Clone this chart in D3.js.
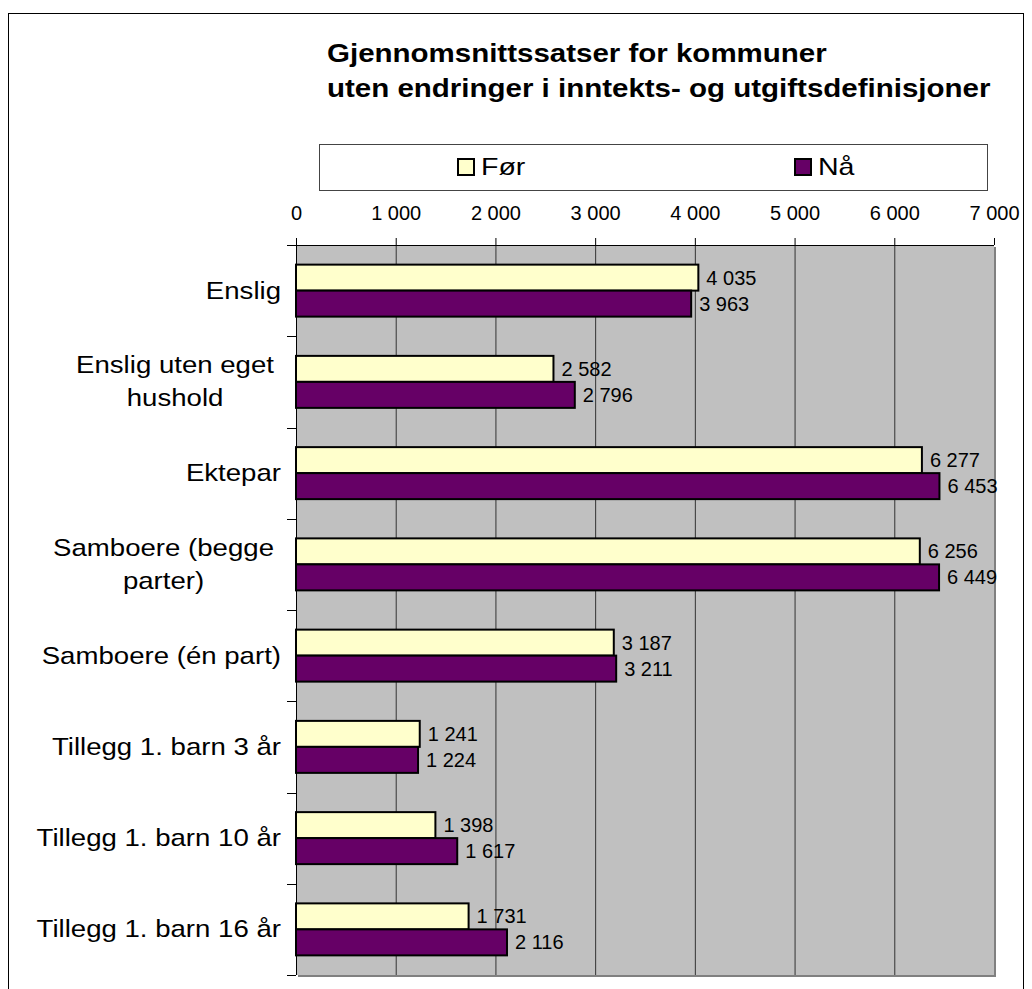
<!DOCTYPE html>
<meta charset="utf-8">
<style>
html, body { margin: 0; padding: 0; background: #fff; }
svg { display: block; font-family: Arial, 'Liberation Sans', sans-serif; }
</style>
<body>
<script src="https://cdn.jsdelivr.net/npm/d3@7"></script>
<script>
// data
var categories = ["Enslig", "Enslig uten eget hushold", "Ektepar", "Samboere (begge parter)",
  "Samboere (én part)", "Tillegg 1. barn 3 år", "Tillegg 1. barn 10 år", "Tillegg 1. barn 16 år"];
var categoryLines = [["Enslig"], ["Enslig uten eget", "hushold"], ["Ektepar"], ["Samboere (begge", "parter)"],
  ["Samboere (én part)"], ["Tillegg 1. barn 3 år"], ["Tillegg 1. barn 10 år"], ["Tillegg 1. barn 16 år"]];
var series = ["Før", "Nå"];
var forValues = [4035, 2582, 6277, 6256, 3187, 1241, 1398, 1731];
var naValues = [3963, 2796, 6453, 6449, 3211, 1224, 1617, 2116];
var tickValues = [0, 1000, 2000, 3000, 4000, 5000, 6000, 7000];
var colors = ["#FFFFCC", "#660066"];

var W = 1032, H = 989;
var svg = d3.select("body").append("svg").attr("width", W).attr("height", H);

// outer chart border
svg.append("rect")
  .attr("x", 8.5).attr("y", 13.5).attr("width", 1015).attr("height", 1000)
  .attr("fill", "#fff").attr("stroke", "#000").attr("stroke-width", 1);

var nb = d3.formatLocale({decimal: ",", thousands: "\u00a0", grouping: [3], currency: ["", ""]}).format(",");

var x = d3.scaleLinear().domain([0, 7000]).range([296, 994]);
var y0 = d3.scaleBand().domain(categories).range([245, 975]);
var y1 = d3.scaleBand().domain(series).range([0, y0.bandwidth()]).paddingOuter(0.755);

// plot area with shadow
svg.append("rect")
  .attr("x", x(0) + 2).attr("y", 247).attr("width", x(7000) - x(0)).attr("height", 975 - 245)
  .attr("fill", "#808080");
svg.append("rect")
  .attr("x", x(0)).attr("y", 245).attr("width", x(7000) - x(0)).attr("height", 975 - 245)
  .attr("fill", "#C0C0C0");

// gridlines
svg.append("g").selectAll("line")
  .data(tickValues.slice(1, -1))
  .join("line")
  .attr("x1", function(d) { return x(d) + 0.5; })
  .attr("x2", function(d) { return x(d) + 0.5; })
  .attr("y1", 245).attr("y2", 975)
  .attr("stroke", "#333").attr("stroke-width", 1);

// title (source text is wider than the installed fonts, so stretch a bit)
var titleLines = ["Gjennomsnittssatser for kommuner", "uten endringer i inntekts- og utgiftsdefinisjoner"];
svg.append("g").selectAll("text")
  .data(titleLines)
  .join("text")
  .attr("transform", function(d, i) { return "translate(327," + (62 + i * 35) + ") scale(1.18,1)"; })
  .attr("font-size", "25px").attr("font-weight", "bold").attr("fill", "#000")
  .text(function(d) { return d; });

// legend
svg.append("rect")
  .attr("x", 319.5).attr("y", 144.5).attr("width", 668).attr("height", 46)
  .attr("fill", "#fff").attr("stroke", "#444").attr("stroke-width", 1);
var legX = [458, 795];
var leg = svg.append("g").selectAll("g")
  .data(series)
  .join("g")
  .attr("transform", function(d, i) { return "translate(" + legX[i] + ",159)"; });
leg.append("rect")
  .attr("width", 16).attr("height", 16)
  .attr("fill", function(d, i) { return colors[i]; })
  .attr("stroke", "#000").attr("stroke-width", 2);
leg.append("text")
  .attr("transform", "translate(23,16) scale(1.19,1)")
  .attr("font-size", "24px").attr("fill", "#000")
  .text(function(d) { return d; });

// bars
var rows = categories.map(function(c, i) { return {cat: c, vals: [forValues[i], naValues[i]]}; });
var grp = svg.append("g").selectAll("g")
  .data(rows)
  .join("g")
  .attr("transform", function(d) { return "translate(0," + y0(d.cat) + ")"; });
grp.selectAll("rect")
  .data(function(d) { return d.vals.map(function(v, i) { return {s: series[i], v: v, i: i}; }); })
  .join("rect")
  .attr("x", x(0))
  .attr("y", function(d) { return y1(d.s); })
  .attr("width", function(d) { return x(d.v) - x(0); })
  .attr("height", y1.bandwidth())
  .attr("fill", function(d) { return colors[d.i]; })
  .attr("stroke", "#000").attr("stroke-width", 2);
grp.selectAll("text")
  .data(function(d) { return d.vals.map(function(v, i) { return {s: series[i], v: v}; }); })
  .join("text")
  .attr("x", function(d) { return x(d.v) + 8; })
  .attr("y", function(d) { return y1(d.s) + y1.bandwidth() / 2 + 7; })
  .attr("font-size", "20px").attr("fill", "#000")
  .text(function(d) { return nb(d.v); });

// top axis
var axis = svg.append("g")
  .attr("transform", "translate(0,245)")
  .call(d3.axisTop(x).tickValues(tickValues).tickFormat(nb).tickSize(7).tickPadding(18).tickSizeOuter(0));
axis.select(".domain").remove();
axis.attr("font-family", null);
axis.selectAll("line").attr("stroke", "#000");
axis.selectAll("text").attr("font-size", "20px").attr("fill", "#000");
svg.append("line")
  .attr("x1", 287).attr("x2", x(7000)).attr("y1", 245.5).attr("y2", 245.5)
  .attr("stroke", "#000");

// left axis with category ticks
svg.append("line")
  .attr("x1", x(0) + 0.5).attr("x2", x(0) + 0.5).attr("y1", 245).attr("y2", 975)
  .attr("stroke", "#000");
var catTicks = categories.map(function(c) { return y0(c); }).concat([975]);
svg.append("g").selectAll("line")
  .data(catTicks.slice(1))
  .join("line")
  .attr("x1", 287).attr("x2", x(0))
  .attr("y1", function(d) { return Math.round(d) + 0.5; })
  .attr("y2", function(d) { return Math.round(d) + 0.5; })
  .attr("stroke", "#000");

// category labels, wrapped lines centred in a right-aligned block
var sx = 1.15;
var labels = svg.append("g").selectAll("text")
  .data(categories)
  .join("text")
  .attr("font-size", "24px").attr("fill", "#000")
  .attr("text-anchor", "middle");
labels.each(function(c, i) {
  var t = d3.select(this);
  var lines = categoryLines[i];
  var cy = y0(c) + y0.bandwidth() / 2;
  var lh = 33;
  lines.forEach(function(l, k) {
    t.append("tspan").attr("x", 0).attr("y", 8 + (k - (lines.length - 1) / 2) * lh).text(l);
  });
  var wmax = 0;
  t.selectAll("tspan").each(function() { wmax = Math.max(wmax, this.getComputedTextLength()); });
  var right = lines.length > 1 ? 274 : 281;
  t.attr("transform", "translate(" + (right - wmax * sx / 2) + "," + cy + ") scale(" + sx + ",1)");
});
</script>
</body>
